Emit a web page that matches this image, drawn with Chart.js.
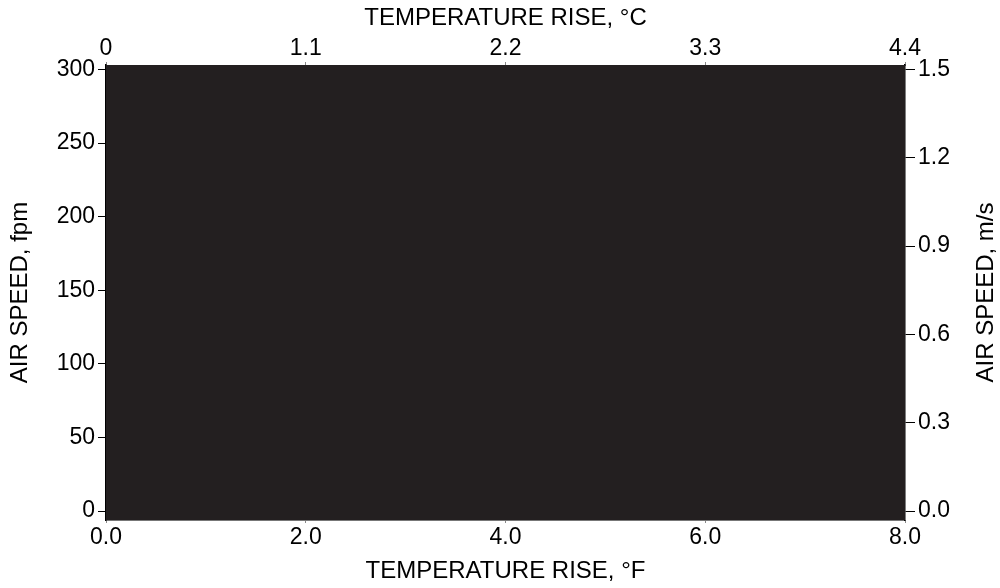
<!DOCTYPE html>
<html>
<head>
<meta charset="utf-8">
<title>Air speed vs temperature rise</title>
<script src="https://cdn.jsdelivr.net/npm/chart.js@4/dist/chart.umd.min.js"></script>
<style>
    html, body { margin: 0; padding: 0; background: #fff; }
    #chart { display: block; }
</style>
</head>
<body>
<canvas id="chart" width="1000" height="588"></canvas>
<script>
// tick labels for the four axes
var tempF = [0, 2, 4, 6, 8];
var tempC = [0, 1.1, 2.2, 3.3, 4.4];
var speedFpm = [0, 50, 100, 150, 200, 250, 300];
var speedMs = [0, 0.3, 0.6, 0.9, 1.2, 1.5];

// shaded region (covers the whole plot)
var shadeX = [0, 8];
var shadeTop = [303.1, 303.1];

var AirSpeedChart = (function () {
    var font = "'Liberation Sans', Arial, sans-serif";
    var ink = '#000';
    var tickSize = 23;
    var titleSize = 24;

    var fixedTicks = function (values) {
        return function (scale) {
            scale.ticks = values.map(function (v) { return { value: v }; });
        };
    };

    var fitSize = function (w, h) {
        return function (scale) {
            if (w !== null) scale.width = w;
            if (h !== null) scale.height = h;
        };
    };

    // right axis title reads bottom-to-top like the left one
    var rightTitle = {
        id: 'rightTitle',
        afterDraw: function (chart) {
            var ctx = chart.ctx;
            ctx.save();
            ctx.translate(986, chart.chartArea.top + (chart.chartArea.bottom - chart.chartArea.top) / 2);
            ctx.rotate(-Math.PI / 2);
            ctx.font = titleSize + 'px ' + font;
            ctx.fillStyle = ink;
            ctx.textAlign = 'center';
            ctx.textBaseline = 'middle';
            ctx.fillText('AIR SPEED, m/s', 0, 0);
            ctx.restore();
        }
    };

    var init = function () {
        var points = shadeX.map(function (x, i) { return { x: x, y: shadeTop[i] }; });

        return new Chart('chart', {
            type: 'line',
            data: {
                datasets: [{
                    data: points,
                    fill: 'start',
                    backgroundColor: '#231f20',
                    borderWidth: 0,
                    pointRadius: 0,
                    xAxisID: 'x',
                    yAxisID: 'y'
                }]
            },
            options: {
                responsive: false,
                animation: false,
                layout: { padding: 0 },
                plugins: {
                    legend: { display: false },
                    tooltip: { enabled: false }
                },
                scales: {
                    x: {
                        type: 'linear',
                        position: 'bottom',
                        min: 0,
                        max: 8,
                        afterBuildTicks: fixedTicks(tempF),
                        afterFit: fitSize(null, 68),
                        ticks: {
                            font: { family: font, size: tickSize },
                            color: ink,
                            padding: 1,
                            maxRotation: 0,
                            callback: function (v) { return Number(v).toFixed(1); }
                        },
                        grid: { drawOnChartArea: false, tickLength: 3, color: '#888' },
                        border: { color: '#777', width: 1 },
                        title: {
                            display: true,
                            text: 'TEMPERATURE RISE, °F',
                            font: { family: font, size: titleSize },
                            color: ink,
                            padding: { top: 2, bottom: 2 }
                        }
                    },
                    xC: {
                        type: 'linear',
                        position: 'top',
                        min: 0,
                        max: 4.4,
                        afterBuildTicks: fixedTicks(tempC),
                        afterFit: fitSize(null, 65),
                        ticks: {
                            font: { family: font, size: tickSize },
                            color: ink,
                            padding: 0,
                            maxRotation: 0,
                            callback: function (v) { return v === 0 ? '0' : Number(v).toFixed(1); }
                        },
                        grid: { drawOnChartArea: false, tickLength: 3, color: '#888' },
                        border: { color: '#777', width: 1 },
                        title: {
                            display: true,
                            text: 'TEMPERATURE RISE, °C',
                            font: { family: font, size: titleSize },
                            color: ink,
                            padding: { top: 4, bottom: 0 }
                        }
                    },
                    y: {
                        type: 'linear',
                        position: 'left',
                        min: -6.1,
                        max: 303.1,
                        afterBuildTicks: fixedTicks(speedFpm),
                        afterFit: fitSize(106, null),
                        ticks: {
                            font: { family: font, size: tickSize },
                            color: ink,
                            padding: 3
                        },
                        grid: { drawOnChartArea: false, tickLength: 8, color: ink },
                        border: { color: ink, width: 1.5 },
                        title: {
                            display: true,
                            text: 'AIR SPEED, fpm',
                            font: { family: font, size: titleSize },
                            color: ink,
                            padding: { top: 6, bottom: 4 }
                        }
                    },
                    yMs: {
                        type: 'linear',
                        position: 'right',
                        min: -0.0305,
                        max: 1.5155,
                        afterBuildTicks: fixedTicks(speedMs),
                        afterFit: fitSize(95, null),
                        ticks: {
                            font: { family: font, size: tickSize },
                            color: ink,
                            padding: 3,
                            callback: function (v) { return Number(v).toFixed(1); }
                        },
                        grid: { drawOnChartArea: false, tickLength: 10, color: ink },
                        border: { color: ink, width: 1.5 }
                    }
                }
            },
            plugins: [rightTitle]
        });
    };

    return init();
})();
</script>
</body>
</html>
